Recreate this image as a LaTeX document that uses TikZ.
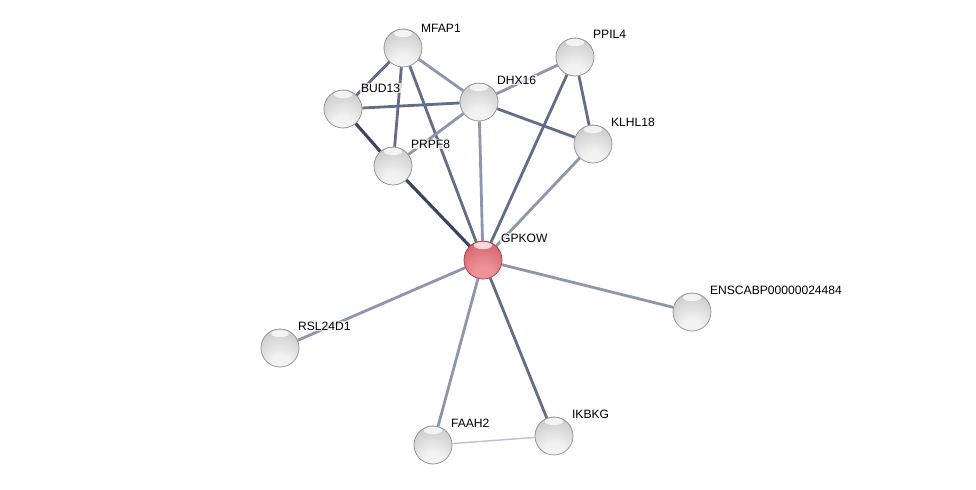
\documentclass[tikz,border=0pt]{standalone}
\usepackage{fontspec}
\setmainfont{Liberation Sans}
\usetikzlibrary{backgrounds}
\definecolor{edgedark}{HTML}{3C4262}
\definecolor{edgemid}{HTML}{646C8C}
\definecolor{edgelight}{HTML}{8E95AE}
\definecolor{edgepale}{HTML}{BCC0CF}
\definecolor{greylow}{HTML}{F2F2F2}
\definecolor{greymid}{HTML}{C6C6C6}
\definecolor{greytop}{HTML}{BBBBBB}
\definecolor{greyrim}{HTML}{8C8C8C}
\definecolor{redlow}{HTML}{EE9298}
\definecolor{redmid}{HTML}{D2606A}
\definecolor{redtop}{HTML}{BE4C55}
\definecolor{redrim}{HTML}{963840}
\pgfdeclareradialshading{greyball}{\pgfpoint{0bp}{-28bp}}{color(0bp)=(greylow); color(14bp)=(greylow); color(42bp)=(greymid); color(62bp)=(greytop); color(80bp)=(greytop)}
\pgfdeclareradialshading{redball}{\pgfpoint{0bp}{-28bp}}{color(0bp)=(redlow); color(14bp)=(redlow); color(42bp)=(redmid); color(62bp)=(redtop); color(80bp)=(redtop)}
\tikzstyle{protein} = [circle, minimum size=0.95cm, inner sep=0pt, shading=greyball, draw=greyrim, line width=0.5pt,
    path picture={\fill[white, opacity=0.75] ([yshift=-3.2pt]path picture bounding box.north) ellipse (6.5pt and 2.6pt);}]
\tikzstyle{query} = [protein, shading=redball, draw=redrim]
\tikzstyle{tag} = [anchor=west, font=\fontsize{8.6}{10}\selectfont, inner sep=0.6pt, fill=white, fill opacity=0.75, text opacity=1]
\tikzstyle{strong} = [draw=edgedark, line width=2.2pt]
\tikzstyle{medium} = [draw=edgemid, line width=2pt]
\tikzstyle{weak} = [draw=edgelight, line width=2pt]
\tikzstyle{faint} = [draw=edgepale, line width=1pt]

\begin{document}
\begin{tikzpicture}[x=0.025cm, y=-0.025cm]
    \useasboundingbox (0,0) rectangle (976,490);
	\node (GPKOW) at (483, 260) [query] {};
	\node (MFAP1) at (403, 48) [protein] {};
	\node (PPIL4) at (575, 57) [protein] {};
	\node (BUD13) at (343, 109) [protein] {};
	\node (DHX16) at (479, 102) [protein] {};
	\node (KLHL18) at (593, 144) [protein] {};
	\node (PRPF8) at (393, 166) [protein] {};
	\node (ENSCABP) at (692, 312) [protein] {};
	\node (RSL24D1) at (280, 348) [protein] {};
	\node (FAAH2) at (433, 445) [protein] {};
	\node (IKBKG) at (554, 436) [protein] {};
	% interactions go under the balls
	\begin{scope}[on background layer]
	\draw [medium] (MFAP1) -- (BUD13);
	\draw [medium] (MFAP1) -- (PRPF8);
	\draw [weak] (MFAP1) -- (DHX16);
	\draw [medium] (MFAP1) -- (GPKOW);
	\draw [medium] (BUD13) -- (DHX16);
	\draw [strong] (BUD13) -- (PRPF8);
	\draw [strong] (PRPF8) -- (GPKOW);
	\draw [weak] (DHX16) -- (PRPF8);
	\draw [weak] (DHX16) -- (PPIL4);
	\draw [medium] (DHX16) -- (KLHL18);
	\draw [weak] (DHX16) -- (GPKOW);
	\draw [medium] (PPIL4) -- (KLHL18);
	\draw [medium] (PPIL4) -- (GPKOW);
	\draw [weak] (KLHL18) -- (GPKOW);
	\draw [weak] (GPKOW) -- (ENSCABP);
	\draw [weak] (GPKOW) -- (RSL24D1);
	\draw [weak] (GPKOW) -- (FAAH2);
	\draw [medium] (GPKOW) -- (IKBKG);
	\draw [faint] (FAAH2) -- (IKBKG);
	\end{scope}
	% labels
	\node (MFAP1 tag) [tag] at ([shift={(17,-20)}]MFAP1.center) {MFAP1};
	\node (PPIL4 tag) [tag] at ([shift={(17,-23)}]PPIL4.center) {PPIL4};
	\node (BUD13 tag) [tag] at ([shift={(17,-21)}]BUD13.center) {BUD13};
	\node (DHX16 tag) [tag] at ([shift={(17,-22)}]DHX16.center) {DHX16};
	\node (KLHL18 tag) [tag] at ([shift={(17,-22)}]KLHL18.center) {KLHL18};
	\node (PRPF8 tag) [tag] at ([shift={(17,-22)}]PRPF8.center) {PRPF8};
	\node (GPKOW tag) [tag] at ([shift={(17,-22)}]GPKOW.center) {GPKOW};
	\node (ENSCABP tag) [tag] at ([shift={(17,-22)}]ENSCABP.center) {ENSCABP00000024484};
	\node (RSL24D1 tag) [tag] at ([shift={(17,-22)}]RSL24D1.center) {RSL24D1};
	\node (FAAH2 tag) [tag] at ([shift={(17,-22)}]FAAH2.center) {FAAH2};
	\node (IKBKG tag) [tag] at ([shift={(17,-22)}]IKBKG.center) {IKBKG};
\end{tikzpicture}
\end{document}
